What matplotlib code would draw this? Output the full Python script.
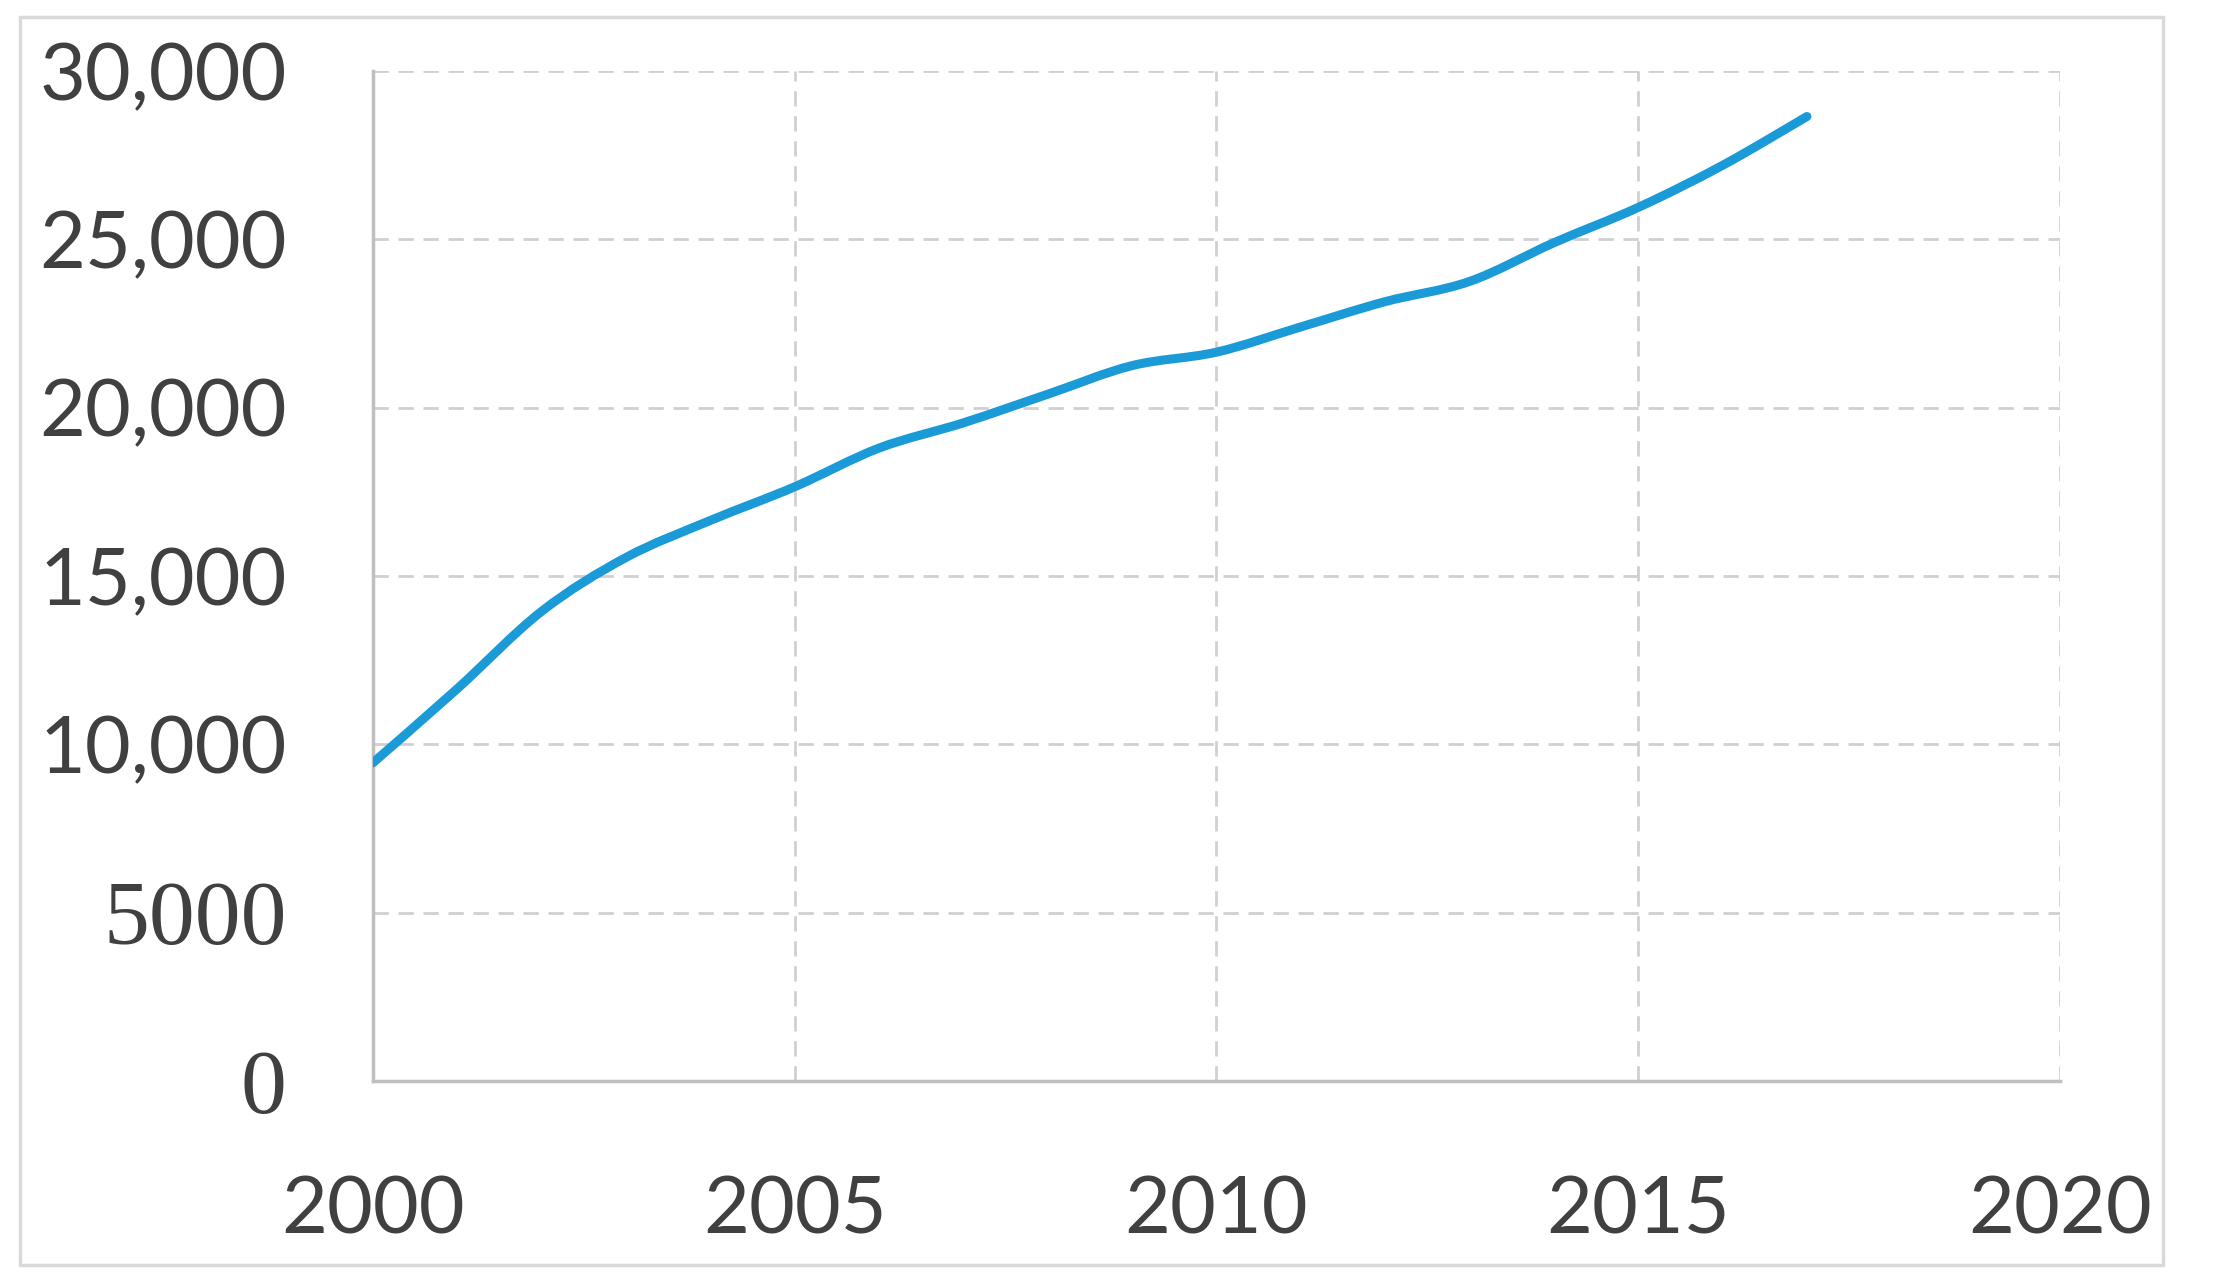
import numpy as np
import matplotlib.pyplot as plt
from matplotlib.patches import Rectangle, PathPatch
from matplotlib.path import Path

# ----------------------------
# Data
# ----------------------------

years = [2000, 2001, 2002, 2003, 2004, 2005, 2006, 2007, 2008,
         2009, 2010, 2011, 2012, 2013, 2014, 2015, 2016, 2017]
values = [9450, 11650, 13950, 15550, 16650, 17650, 18800, 19550, 20400,
          21250, 21650, 22400, 23150, 23750, 24900, 25950, 27200, 28650]

x_ticks = [2000, 2005, 2010, 2015, 2020]
y_ticks = [0, 5000, 10000, 15000, 20000, 25000, 30000]
y_tick_labels = ["0", "5000", "10,000", "15,000", "20,000", "25,000", "30,000"]
serif_labels = ["0", "5000"]


def smooth_path(xs, ys):
    # Excel style "smoothed line": bezier segments through the data points
    pts = np.column_stack([xs, ys]).astype(float)
    ext = np.vstack([pts[0], pts, pts[-1]])
    verts = [pts[0]]
    codes = [Path.MOVETO]
    for i in range(1, len(ext) - 2):
        p0, p1, p2, p3 = ext[i - 1], ext[i], ext[i + 1], ext[i + 2]
        verts += [p1 + (p2 - p0) / 6, p2 - (p3 - p1) / 6, p2]
        codes += [Path.CURVE4] * 3
    return Path(verts, codes)


# ----------------------------
# Plot
# ----------------------------

fig = plt.figure(figsize=(22.17, 12.85), dpi=100)
ax = fig.add_axes([0.1682, 0.1588, 0.7610, 0.7859])

# outer chart border
fig.patches.append(Rectangle((20 / 2217, 1 - 1265 / 1285), 2143 / 2217, 1248 / 1285,
                             transform=fig.transFigure, fill=False,
                             edgecolor="#D9D9D9", linewidth=2.5))

ax.add_patch(PathPatch(smooth_path(years, values), facecolor="none",
                       edgecolor="#1B9AD8", linewidth=6.5,
                       capstyle="round", joinstyle="round", zorder=3))

ax.set_xlim(2000, 2020)
ax.set_ylim(0, 30000)
ax.set_xticks(x_ticks)
ax.set_yticks(y_ticks)
ax.set_yticklabels(y_tick_labels)

ax.grid(True, color="#D0D0D0", linestyle=(0, (5.5, 3.5)), linewidth=2)
ax.set_axisbelow(True)

for side in ["top", "right"]:
    ax.spines[side].set_visible(False)
for side in ["left", "bottom"]:
    ax.spines[side].set_color("#BFBFBF")
    ax.spines[side].set_linewidth(2.5)

ax.tick_params(axis="both", length=0, colors="#404040")
ax.tick_params(axis="y", pad=62)
ax.tick_params(axis="x", pad=68)

for lbl in ax.get_xticklabels():
    lbl.set_fontfamily("Lato")
    lbl.set_fontsize(57)
for lbl in ax.get_yticklabels():
    if lbl.get_text() in serif_labels:
        lbl.set_fontfamily("Liberation Serif")
        lbl.set_fontsize(66)
    else:
        lbl.set_fontfamily("Lato")
        lbl.set_fontsize(57)

fig.savefig("out.png", dpi=100)
